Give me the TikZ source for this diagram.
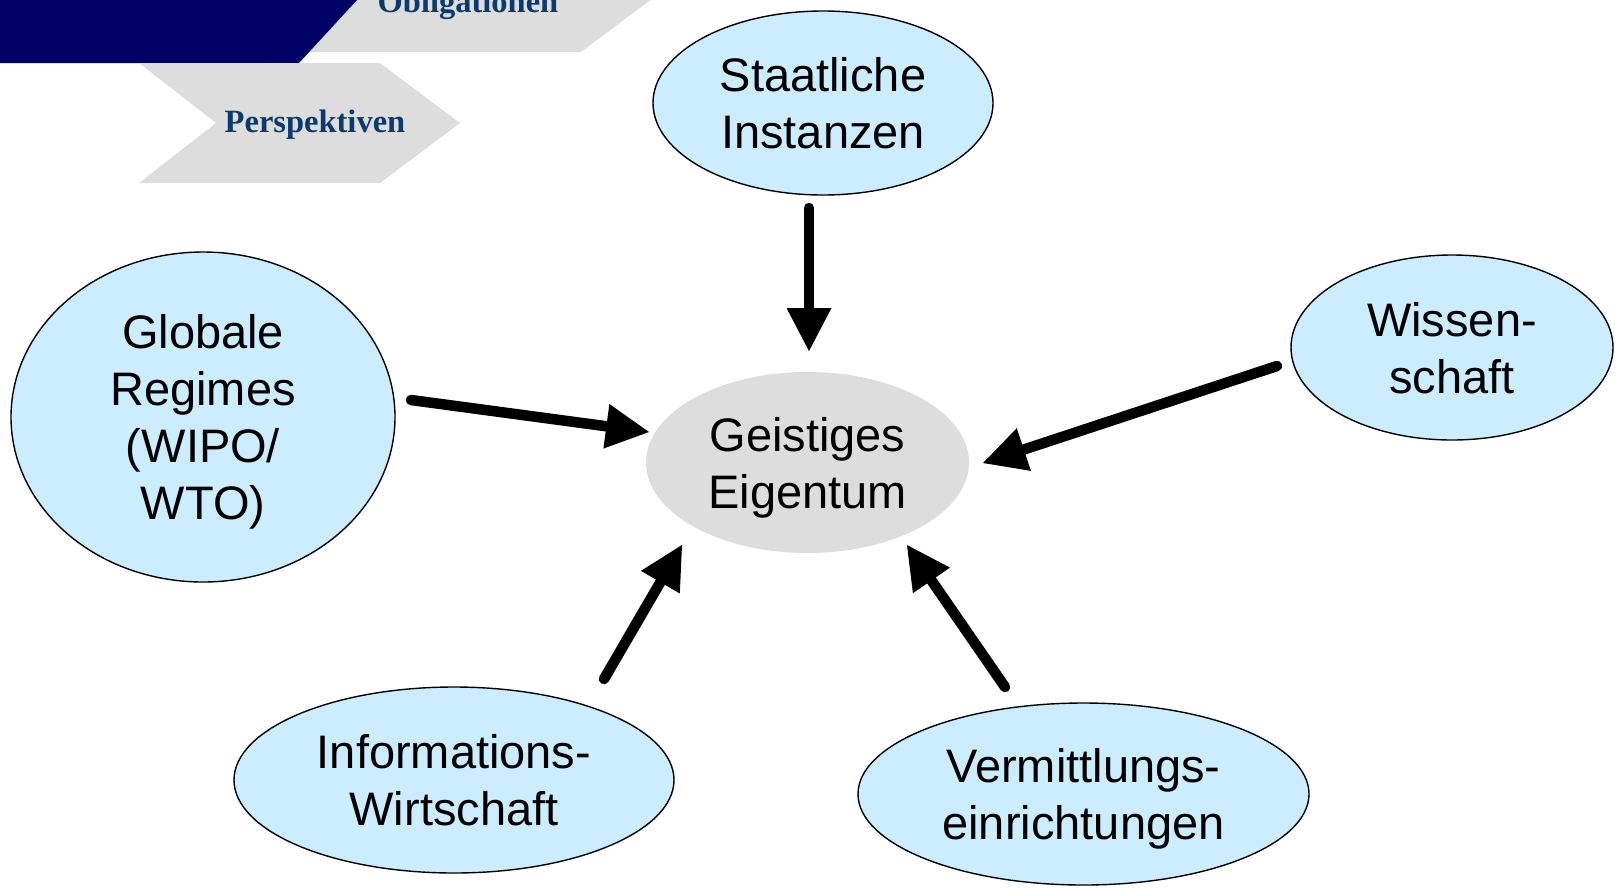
\documentclass[tikz,border=0pt]{standalone}
\usepackage{fontspec}
\setmainfont{Liberation Sans}
\newfontfamily\chevfont{Liberation Serif}
\usetikzlibrary{shapes.geometric,arrows.meta}
\definecolor{lblue}{HTML}{CCECFF}
\definecolor{lgray}{HTML}{DDDDDD}
\definecolor{navyband}{HTML}{000066}
\definecolor{tblue}{HTML}{0B3A6E}
\tikzset{
  ell/.style={ellipse, draw=black, line width=1.4pt, fill=lblue, inner sep=0pt,
    align=center, font=\fontsize{47}{57}\selectfont, text depth=0pt},
  core/.style={ell, draw=none, fill=lgray},
  chevtext/.style={anchor=base, inner sep=0pt, text=tblue,
    font=\chevfont\bfseries\fontsize{32.5}{39}\selectfont},
  arr/.style={line width=10.5pt, line cap=round,
    -{Triangle[width=45pt,length=43pt,line width=0pt]}}
}
\begin{document}
\begin{tikzpicture}[x=1pt,y=-1pt]
\useasboundingbox (0,0) rectangle (1616,887);
\clip (0,0) rectangle (1616,887);
% header band and chevrons
\fill[lgray] (290,52) -- (581,52) -- (661,-8) -- (581,-68) -- (290,-68) -- cycle;
\fill[navyband] (0,-70) -- (421.5,-70) -- (299,63) -- (0,63) -- cycle;
\fill[lgray] (139,63) -- (380,63) -- (460,123) -- (380,183) -- (139,183) -- (216,123) -- cycle;
\node[chevtext] (obl) at (468,12) {Obligationen};
\node[chevtext] (persp) at (315,132) {Perspektiven};
% ellipses
\node[ell, minimum width=340pt, minimum height=184pt] (st) at (823,103) {Staatliche\\Instanzen};
\node[ell, minimum width=384pt, minimum height=330pt] (gl) at (203,417) {Globale\\Regimes\\(WIPO/\\WTO)};
\node[ell, minimum width=322pt, minimum height=185pt] (wi) at (1452,347.5) {Wissen-\\schaft};
\node[ell, minimum width=440pt, minimum height=186pt] (inf) at (454,780) {Informations-\\Wirtschaft};
\node[ell, minimum width=451pt, minimum height=182pt] (ve) at (1083.5,794) {Vermittlungs-\\einrichtungen};
\node[core, minimum width=323pt, minimum height=181pt] (ge) at (807.5,462.5) {Geistiges\\Eigentum};
% arrow end points
\coordinate (stS) at (809,208);  \coordinate (stE) at (809,351);
\coordinate (glS) at (411,400);  \coordinate (glE) at (649,432);
\coordinate (wiS) at (1277,366); \coordinate (wiE) at (983,463);
\coordinate (inS) at (604,679);  \coordinate (inE) at (682,545);
\coordinate (veS) at (1005,687); \coordinate (veE) at (907,545);
\draw[arr] (stS) -- (stE);
\draw[arr] (glS) -- (glE);
\draw[arr] (wiS) -- (wiE);
\draw[arr] (inS) -- (inE);
\draw[arr] (veS) -- (veE);
\end{tikzpicture}
\end{document}
